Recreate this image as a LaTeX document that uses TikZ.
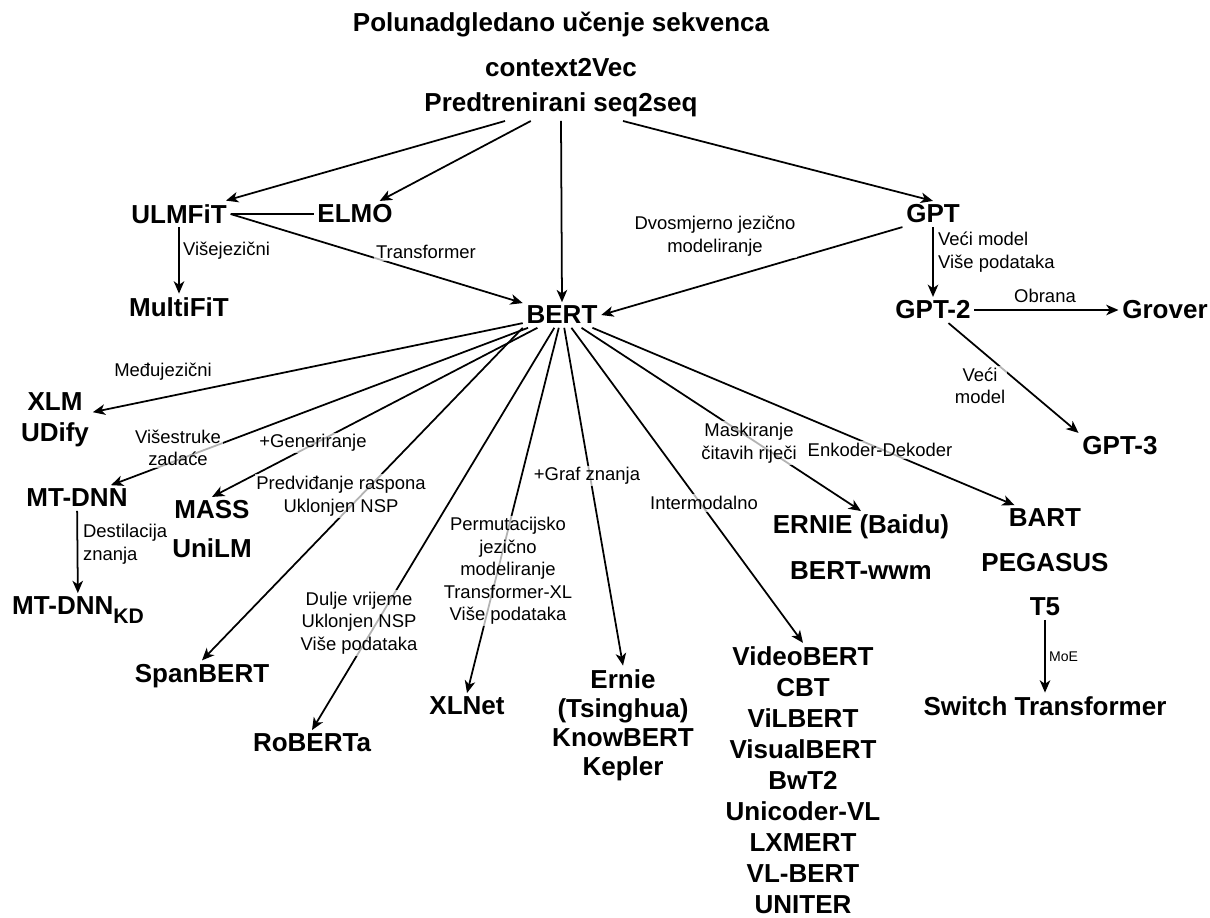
\documentclass[tikz,border=0pt]{standalone}
\usepackage{fontspec}
\setmainfont{Liberation Sans}
\usetikzlibrary{arrows.meta, positioning}

\begin{document}
\begin{tikzpicture}[
    x=0.02cm, y=-0.02cm,
    model/.style={font=\fontsize{14.8}{17.6}\selectfont\bfseries, align=center, inner sep=2pt},
    lbl/.style={font=\fontsize{10.5}{12.8}\selectfont, align=center, inner sep=1pt,
                fill=white, fill opacity=0.7, text opacity=1},
    arr/.style={-{Stealth[length=7pt, width=6pt, inset=2pt]}, line width=1pt},
    link/.style={line width=1pt},
]
\path[use as bounding box, fill=white] (0,0) rectangle (1210,917);

% top of the tree
\node[model] (title) at (561,25) {Polunadgledano učenje sekvenca};
\node[model] (ctxvec) at (561,68) {context2Vec};
\node[model] (seqseq) at (561,105) {Predtrenirani seq2seq};

\node[model] (ulmfit) at (179,214) {ULMFiT};
\node[model] (elmo) at (355,214) {ELMO};
\node[model] (gpt) at (933,214) {GPT};
\node[model] (multifit) at (179,307) {MultiFiT};
\node[model] (bert) at (562,315) {BERT};

% GPT line
\node[model] (gpttwo) at (933,310) {GPT-2};
\node[model] (grover) at (1165,310) {Grover};
\node[model] (gptthree) at (1120,446) {GPT-3};

% BERT family
\node[model] (xlm) at (55,420) {XLM\\UDify};
\node[model] (mtdnn) at (77,498) {MT-DNN};
\node[model] (mtdnnkd) at (78,610) {MT-DNN\raisebox{-0.6ex}{\fontsize{12}{12}\selectfont KD}};
\node[model] (mass) at (212,510) {MASS};
\node[model] (unilm) at (212,548) {UniLM};
\node[model] (spanbert) at (202,676) {SpanBERT};
\node[model] (roberta) at (312,743) {RoBERTa};
\node[model] (xlnet) at (467,706) {XLNet};
\node[model, font=\fontsize{14.8}{16.5}\selectfont\bfseries] (ernie) at (623,725) {Ernie\\(Tsinghua)\\KnowBERT\\Kepler};
\node[model] (visual) at (803,780) {VideoBERT\\CBT\\ViLBERT\\VisualBERT\\BwT2\\Unicoder-VL\\LXMERT\\VL-BERT\\UNITER};
\node[model] (erniebaidu) at (861,527) {ERNIE (Baidu)};
\node[model] (bertwwm) at (861,571) {BERT-wwm};
\node[model] (bart) at (1045,518) {BART};
\node[model] (pegasus) at (1045,563) {PEGASUS};
\node[model] (tfive) at (1045,607) {T5};
\node[model] (switch) at (1045,706) {Switch Transformer};

% connectors
\draw[arr] (seqseq) -- (ulmfit);
\draw[arr] (seqseq) -- (elmo);
\draw[arr] (seqseq.south) -- (bert.north);
\draw[arr] (seqseq) -- (gpt.north);

\draw[link] (ulmfit) -- (elmo);
\draw[arr] (ulmfit) -- (multifit);
\draw[arr] (ulmfit.east) -- (bert);
\draw[arr] (gpt.south west) -- (bert.east);
\draw[arr] (gpt) -- (gpttwo);
\draw[arr] (gpttwo) -- (grover);
\draw[arr] (gpttwo) -- (gptthree.north west);

\draw[arr] (bert) -- (xlm);
\draw[arr] (bert) -- (mtdnn);
\draw[arr] (mtdnn) -- (mtdnnkd);
\draw[arr] (bert) -- (mass.north);
\draw[arr] (bert.south west) -- (spanbert.north);
\draw[arr] (bert) -- (roberta.north);
\draw[arr] (bert) -- (xlnet.north);
\draw[arr] (bert) -- (ernie.north);
\draw[arr] (bert) -- (visual.north);
\draw[arr] (bert) -- (erniebaidu.north);
\draw[arr] (bert) -- (bart);
\draw[arr] (tfive) -- (switch);

% labels on the connectors
\node[lbl, anchor=west] (lmulti) at (181,251) {Višejezični};
\node[lbl] (ltrans) at (426,252) {Transformer};
\node[lbl] (lbidir) at (715,236) {Dvosmjerno jezično\\modeliranje};
\node[lbl, anchor=west, align=left] (lbigger) at (936,252) {Veći model\\Više podataka};
\node[lbl] (ldefence) at (1045,296) {Obrana};
\node[lbl] (lbiggertwo) at (980,386) {Veći\\model};
\node[lbl] (lcross) at (163,372) {Međujezični};
\node[lbl] (lmultitask) at (178,448) {Višestruke\\zadaće};
\node[lbl] (lgen) at (313,443) {+Generiranje};
\node[lbl] (lspan) at (341,496) {Predviđanje raspona\\Uklonjen NSP};
\node[lbl, anchor=west, align=left] (ldistil) at (81,544) {Destilacija\\znanja};
\node[lbl] (llonger) at (359,623) {Dulje vrijeme\\Uklonjen NSP\\Više podataka};
\node[lbl] (lperm) at (508,571) {Permutacijsko\\jezično\\modeliranje\\Transformer-XL\\Više podataka};
\node[lbl] (lgraph) at (587,476) {+Graf znanja};
\node[lbl] (linter) at (704,503) {Intermodalno};
\node[lbl] (lmask) at (749,443) {Maskiranje\\čitavih riječi};
\node[lbl] (lencdec) at (880,450) {Enkoder-Dekoder};
\node[lbl, anchor=west, font=\fontsize{8}{9}\selectfont] (lmoe) at (1047,657) {MoE};

\end{tikzpicture}
\end{document}
